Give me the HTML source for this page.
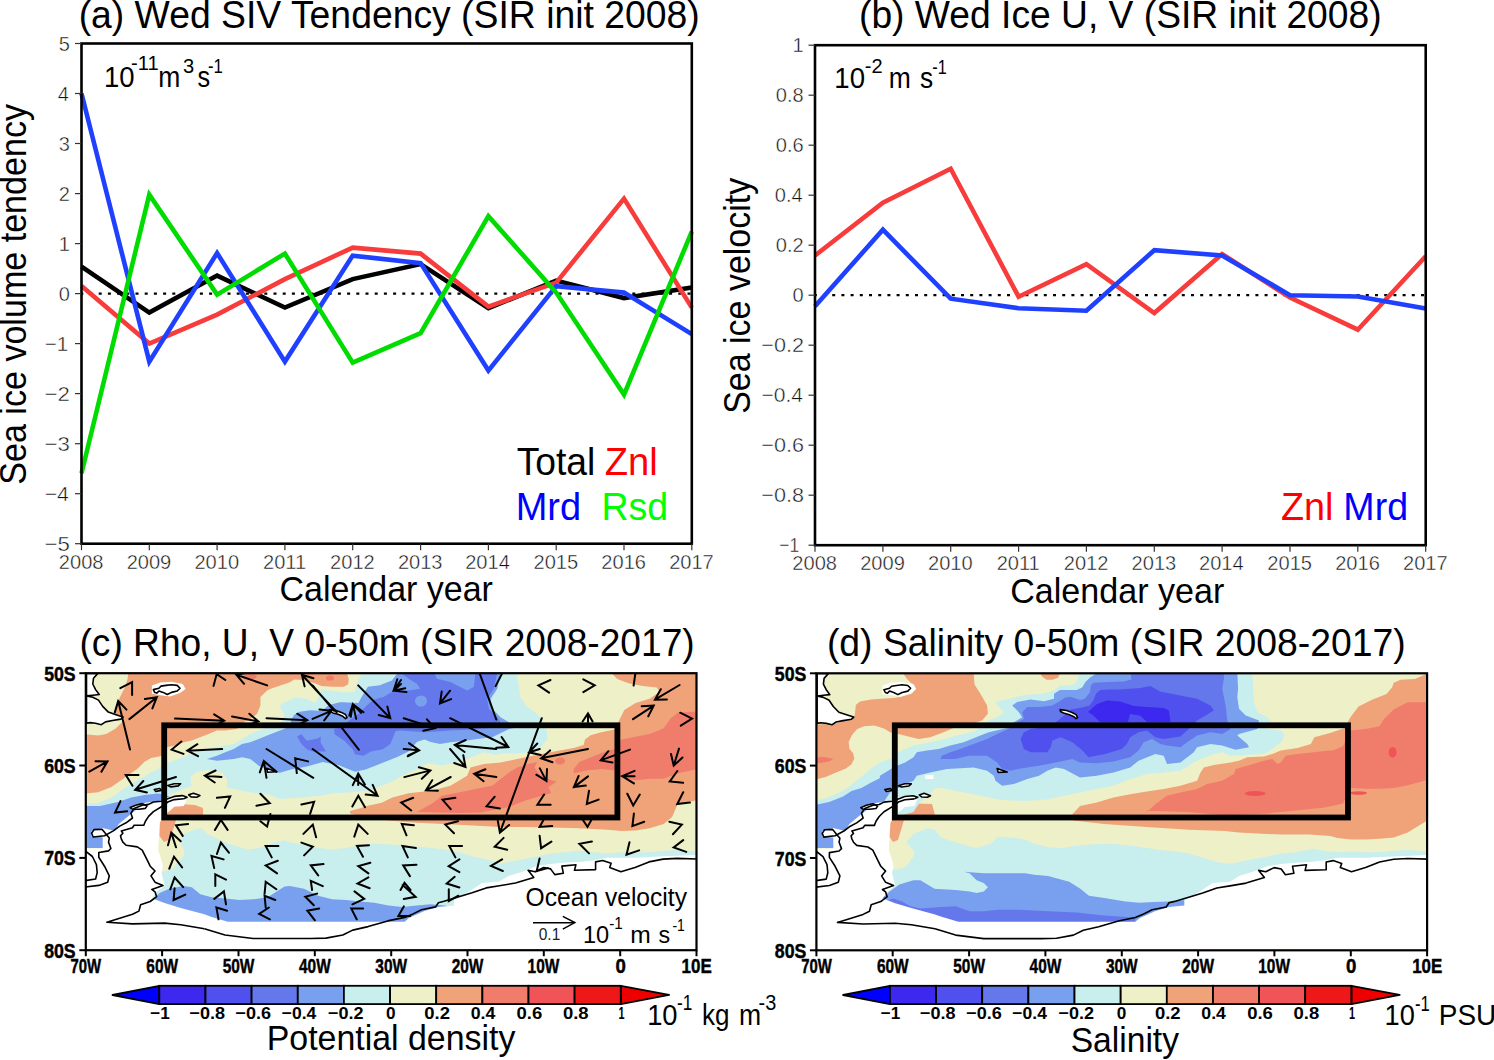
<!DOCTYPE html>
<html><head><meta charset="utf-8"><style>
html,body{margin:0;padding:0;background:#fff;}
body{width:1494px;height:1060px;overflow:hidden;font-family:"Liberation Sans", sans-serif;}
svg{position:absolute;left:0;top:0;}
</style></head><body>
<svg width="1494" height="1060" viewBox="0 0 1494 1060" font-family='"Liberation Sans", sans-serif'>
<rect width="1494" height="1060" fill="#fff"/>
<line x1="81.5" y1="293.6" x2="691.8" y2="293.6" stroke="#000" stroke-width="2.2" stroke-dasharray="3 6.2" stroke-dashoffset="1.2"/>
<polyline points="81.5,266.6 149.3,312.6 217.1,275.6 284.9,307.6 352.7,279.1 420.6,264.1 488.4,308.1 556.2,280.6 624.0,298.1 691.8,287.6" fill="none" stroke="#000000" stroke-width="4.6" stroke-linejoin="miter" stroke-miterlimit="10"/>
<polyline points="81.5,286.1 149.3,343.6 217.1,314.6 284.9,279.1 352.7,247.6 420.6,253.6 488.4,306.6 556.2,282.6 624.0,198.6 691.8,307.6" fill="none" stroke="#F83C3C" stroke-width="4.6" stroke-linejoin="miter" stroke-miterlimit="10"/>
<polyline points="81.5,93.5 149.3,361.6 217.1,253.1 284.9,361.6 352.7,255.6 420.6,263.1 488.4,370.6 556.2,286.1 624.0,292.6 691.8,334.1" fill="none" stroke="#2040FF" stroke-width="4.6" stroke-linejoin="miter" stroke-miterlimit="10"/>
<polyline points="81.5,473.2 149.3,194.6 217.1,294.6 284.9,253.6 352.7,362.6 420.6,333.1 488.4,216.1 556.2,292.6 624.0,394.6 691.8,231.6" fill="none" stroke="#00DC00" stroke-width="4.6" stroke-linejoin="miter" stroke-miterlimit="10"/>
<rect x="81.5" y="43.5" width="610.3" height="500.2" fill="none" stroke="#000" stroke-width="2.6"/>
<line x1="75.0" y1="543.7" x2="81.5" y2="543.7" stroke="#333" stroke-width="1.2"/>
<line x1="75.0" y1="493.7" x2="81.5" y2="493.7" stroke="#333" stroke-width="1.2"/>
<line x1="75.0" y1="443.7" x2="81.5" y2="443.7" stroke="#333" stroke-width="1.2"/>
<line x1="75.0" y1="393.6" x2="81.5" y2="393.6" stroke="#333" stroke-width="1.2"/>
<line x1="75.0" y1="343.6" x2="81.5" y2="343.6" stroke="#333" stroke-width="1.2"/>
<line x1="75.0" y1="293.6" x2="81.5" y2="293.6" stroke="#333" stroke-width="1.2"/>
<line x1="75.0" y1="243.6" x2="81.5" y2="243.6" stroke="#333" stroke-width="1.2"/>
<line x1="75.0" y1="193.6" x2="81.5" y2="193.6" stroke="#333" stroke-width="1.2"/>
<line x1="75.0" y1="143.5" x2="81.5" y2="143.5" stroke="#333" stroke-width="1.2"/>
<line x1="75.0" y1="93.5" x2="81.5" y2="93.5" stroke="#333" stroke-width="1.2"/>
<line x1="75.0" y1="43.5" x2="81.5" y2="43.5" stroke="#333" stroke-width="1.2"/>
<line x1="81.5" y1="543.7" x2="81.5" y2="550.2" stroke="#333" stroke-width="1.2"/>
<line x1="149.3" y1="543.7" x2="149.3" y2="550.2" stroke="#333" stroke-width="1.2"/>
<line x1="217.1" y1="543.7" x2="217.1" y2="550.2" stroke="#333" stroke-width="1.2"/>
<line x1="284.9" y1="543.7" x2="284.9" y2="550.2" stroke="#333" stroke-width="1.2"/>
<line x1="352.7" y1="543.7" x2="352.7" y2="550.2" stroke="#333" stroke-width="1.2"/>
<line x1="420.6" y1="543.7" x2="420.6" y2="550.2" stroke="#333" stroke-width="1.2"/>
<line x1="488.4" y1="543.7" x2="488.4" y2="550.2" stroke="#333" stroke-width="1.2"/>
<line x1="556.2" y1="543.7" x2="556.2" y2="550.2" stroke="#333" stroke-width="1.2"/>
<line x1="624.0" y1="543.7" x2="624.0" y2="550.2" stroke="#333" stroke-width="1.2"/>
<line x1="691.8" y1="543.7" x2="691.8" y2="550.2" stroke="#333" stroke-width="1.2"/>
<line x1="815.0" y1="295.2" x2="1425.7" y2="295.2" stroke="#000" stroke-width="2.2" stroke-dasharray="3 6.2" stroke-dashoffset="1.2"/>
<polyline points="815.0,255.5 882.9,202.7 950.7,168.7 1018.6,296.7 1086.4,264.2 1154.3,313.0 1222.1,254.0 1290.0,297.5 1357.8,329.7 1425.7,256.2" fill="none" stroke="#F83C3C" stroke-width="4.6" stroke-linejoin="miter" stroke-miterlimit="10"/>
<polyline points="815.0,306.2 882.9,229.7 950.7,298.7 1018.6,308.2 1086.4,310.7 1154.3,250.2 1222.1,255.5 1290.0,295.2 1357.8,296.5 1425.7,308.5" fill="none" stroke="#2040FF" stroke-width="4.6" stroke-linejoin="miter" stroke-miterlimit="10"/>
<rect x="815.0" y="45.2" width="610.7" height="500.0" fill="none" stroke="#000" stroke-width="2.6"/>
<line x1="808.5" y1="545.2" x2="815.0" y2="545.2" stroke="#333" stroke-width="1.2"/>
<line x1="808.5" y1="495.2" x2="815.0" y2="495.2" stroke="#333" stroke-width="1.2"/>
<line x1="808.5" y1="445.2" x2="815.0" y2="445.2" stroke="#333" stroke-width="1.2"/>
<line x1="808.5" y1="395.2" x2="815.0" y2="395.2" stroke="#333" stroke-width="1.2"/>
<line x1="808.5" y1="345.2" x2="815.0" y2="345.2" stroke="#333" stroke-width="1.2"/>
<line x1="808.5" y1="295.2" x2="815.0" y2="295.2" stroke="#333" stroke-width="1.2"/>
<line x1="808.5" y1="245.2" x2="815.0" y2="245.2" stroke="#333" stroke-width="1.2"/>
<line x1="808.5" y1="195.2" x2="815.0" y2="195.2" stroke="#333" stroke-width="1.2"/>
<line x1="808.5" y1="145.2" x2="815.0" y2="145.2" stroke="#333" stroke-width="1.2"/>
<line x1="808.5" y1="95.2" x2="815.0" y2="95.2" stroke="#333" stroke-width="1.2"/>
<line x1="808.5" y1="45.2" x2="815.0" y2="45.2" stroke="#333" stroke-width="1.2"/>
<line x1="815.0" y1="545.2" x2="815.0" y2="551.7" stroke="#333" stroke-width="1.2"/>
<line x1="882.9" y1="545.2" x2="882.9" y2="551.7" stroke="#333" stroke-width="1.2"/>
<line x1="950.7" y1="545.2" x2="950.7" y2="551.7" stroke="#333" stroke-width="1.2"/>
<line x1="1018.6" y1="545.2" x2="1018.6" y2="551.7" stroke="#333" stroke-width="1.2"/>
<line x1="1086.4" y1="545.2" x2="1086.4" y2="551.7" stroke="#333" stroke-width="1.2"/>
<line x1="1154.3" y1="545.2" x2="1154.3" y2="551.7" stroke="#333" stroke-width="1.2"/>
<line x1="1222.1" y1="545.2" x2="1222.1" y2="551.7" stroke="#333" stroke-width="1.2"/>
<line x1="1290.0" y1="545.2" x2="1290.0" y2="551.7" stroke="#333" stroke-width="1.2"/>
<line x1="1357.8" y1="545.2" x2="1357.8" y2="551.7" stroke="#333" stroke-width="1.2"/>
<line x1="1425.7" y1="545.2" x2="1425.7" y2="551.7" stroke="#333" stroke-width="1.2"/>
<defs><clipPath id="clipc"><rect x="85.8" y="673.2" width="610.7" height="277.0"/></clipPath>
<clipPath id="clipd"><rect x="816.4" y="673.3" width="610.7" height="277.0"/></clipPath></defs>
<g clip-path="url(#clipd)">
<rect x="816.4" y="673.3" width="610.7" height="277.0" fill="#EEF0C8"/>
<polygon points="903.4,673.7 973.7,673.7 974.5,684.6 980.4,693.8 987.1,705.5 987.9,713.8 982.1,720.5 977.1,722.2 963.7,725.5 953.6,728.1 943.6,732.2 930.2,737.3 918.5,738.9 908.4,736.4 898.4,733.9 890.0,732.2 885.0,728.9 880.0,727.2 874.0,725.5 864.2,726.2 857.2,729.0 852.2,734.7 848.7,741.7 849.4,748.7 853.0,752.9 854.4,758.6 851.5,764.2 845.9,768.4 836.1,772.6 826.2,776.8 815.7,779.6 815.7,724.8 823.4,724.1 830.5,725.5 836.1,723.4 843.1,720.9 850.1,719.2 854.4,716.4 855.1,712.2 855.8,705.1 860.0,701.6 871.2,699.5 881.1,698.8 893.7,698.1 900.1,697.1 911.8,693.8 916.0,688.7 913.5,685.4 906.8,678.7" fill="#F0A278"/>
<polygon points="1039.7,672.8 1060.1,672.8 1058.0,677.7 1052.3,679.8 1046.7,679.8 1042.5,677.0" fill="#F0A278"/>
<polygon points="1071.3,815.6 1080.0,805.9 1096.7,802.5 1113.5,797.5 1130.2,794.2 1146.9,791.6 1163.7,789.1 1180.4,785.8 1197.1,780.8 1200.5,772.4 1203.8,767.4 1213.9,764.9 1230.6,762.4 1239.0,760.7 1247.3,757.3 1264.1,756.5 1272.4,754.0 1280.8,750.6 1297.5,748.1 1310.9,744.0 1314.3,737.3 1330.0,733.1 1337.4,730.4 1344.5,728.3 1350.1,717.8 1358.5,706.5 1372.6,699.5 1386.6,693.9 1392.3,686.9 1393.7,682.7 1400.7,679.8 1414.8,679.1 1423.2,675.6 1428.8,672.8 1428.8,672.8 1428.8,819.8 1419.0,825.5 1407.7,832.5 1393.7,837.4 1379.6,838.8 1365.6,839.5 1351.5,839.5 1337.4,838.1 1330.4,836.0 1309.3,834.6 1281.2,834.6 1253.1,833.2 1239.1,832.5 1225.0,831.1 1188.7,829.7 1146.5,826.9 1104.3,824.1 1073.4,820.5" fill="#F0A278"/>
<polygon points="890.0,806.0 900.0,804.5 915.0,803.5 932.0,804.0 935.0,815.0 910.0,815.0 904.0,820.0 901.0,830.0 898.0,840.0 893.0,842.0 889.0,836.0 889.0,824.0 891.0,815.0" fill="#F0A278"/>
<polygon points="1146.9,812.1 1155.3,804.2 1167.0,795.8 1180.4,792.5 1197.1,789.1 1207.2,784.1 1222.2,780.8 1233.9,774.1 1235.6,769.1 1247.3,765.7 1264.1,760.7 1272.4,759.0 1277.5,764.0 1280.8,762.4 1285.8,755.7 1297.5,754.0 1314.3,752.3 1330.0,750.6 1331.8,750.8 1337.4,748.7 1343.1,745.9 1350.1,730.4 1365.6,729.0 1379.6,726.2 1383.8,719.2 1393.7,709.4 1407.7,702.3 1428.8,702.3 1428.8,779.6 1407.7,785.3 1393.7,788.1 1379.6,788.8 1365.6,788.8 1350.1,788.1 1343.1,803.5 1323.4,807.8 1295.3,810.6 1267.2,813.4 1225.0,815.5 1188.7,812.1 1146.5,810.7" fill="#F07C6C"/>
<polygon points="815.7,757.4 823.4,757.1 833.3,758.8 829.1,761.4 822.0,762.8 815.7,763.5" fill="#F07C6C"/>
<ellipse cx="1255.2" cy="793.5" rx="10.4" ry="2.4" fill="#F05458"/>
<ellipse cx="1392.6" cy="752.2" rx="4.0" ry="5.2" fill="#F05458"/>
<ellipse cx="1358.5" cy="793.0" rx="8.4" ry="1.8" fill="#F05458"/>
<polygon points="815.7,801.4 829.1,797.2 840.3,792.3 847.3,788.1 854.4,782.4 861.4,776.8 871.2,768.4 879.7,762.8 885.0,760.7 890.9,759.0 896.7,755.7 898.4,752.3 905.1,749.0 913.5,745.6 926.9,743.1 938.6,740.6 950.3,737.3 963.7,733.9 973.7,731.4 980.4,727.2 988.8,720.5 997.1,717.2 1003.8,712.2 998.8,707.1 995.5,702.1 1000.5,700.4 1010.5,698.8 1022.2,695.4 1030.6,694.6 1044.0,693.8 1054.0,690.4 1060.0,685.4 1070.0,685.4 1074.7,684.0 1078.1,678.7 1079.1,672.0 1252.4,672.0 1253.2,688.7 1254.0,702.1 1257.4,712.2 1267.4,717.2 1270.8,721.4 1264.1,728.1 1280.8,730.6 1284.1,733.9 1282.5,740.6 1272.4,749.0 1264.1,754.0 1247.3,754.8 1230.6,755.7 1222.2,752.3 1213.9,754.0 1197.1,760.7 1188.8,765.7 1180.4,770.7 1163.7,772.4 1146.9,774.1 1130.2,779.1 1113.5,785.8 1096.7,789.1 1080.0,792.5 1064.1,795.8 1047.3,799.2 1030.6,800.8 1013.9,800.8 997.1,799.2 980.4,795.8 963.7,792.5 946.9,789.1 938.6,787.5 933.5,789.1 930.2,794.2 923.5,799.2 918.5,804.2 913.5,812.1 871.2,824.1 843.1,848.0 815.7,848.0" fill="#C8EEEE"/>
<polygon points="890.9,870.4 899.3,869.0 906.4,866.2 913.4,856.4 914.8,852.2 906.4,842.3 913.4,833.9 927.4,828.3 934.5,829.7 941.5,838.1 955.6,842.3 969.6,846.5 976.6,848.0 990.7,843.7 997.7,836.7 1011.8,837.4 1025.0,839.5 1034.1,843.7 1048.1,847.2 1062.2,848.0 1076.2,845.8 1090.3,844.4 1111.4,843.7 1132.4,845.8 1146.5,848.0 1160.6,850.1 1174.6,851.5 1188.7,853.6 1202.7,857.8 1216.8,862.0 1230.0,864.1 1239.1,862.0 1253.1,859.2 1267.2,856.4 1281.2,853.6 1295.3,852.2 1309.3,849.4 1315.0,848.7 1323.4,850.8 1337.4,852.2 1351.5,851.5 1365.6,852.2 1379.6,852.2 1393.7,850.8 1407.7,850.1 1428.8,851.5 1430.0,952.0 880.0,952.0 880.0,870.0" fill="#C8EEEE"/>
<polygon points="815.7,804.9 829.1,802.1 843.1,796.5 851.5,790.9 861.4,788.1 871.2,782.4 879.7,778.2 880.0,775.7 890.9,769.1 896.7,765.7 905.1,762.4 913.5,757.3 916.8,752.3 926.9,750.6 938.6,749.0 950.3,745.6 963.7,742.3 980.4,735.6 988.8,732.2 1007.2,728.1 1013.9,722.2 1022.2,717.2 1018.9,712.2 1012.2,705.5 1017.2,702.1 1030.6,699.6 1044.0,701.3 1054.0,698.8 1054.0,693.8 1060.0,690.1 1076.7,690.1 1082.1,687.4 1085.4,682.0 1090.1,677.4 1098.8,672.0 1237.3,672.0 1238.1,688.7 1237.3,697.1 1239.0,708.8 1245.7,715.5 1259.0,720.5 1257.4,728.9 1239.0,733.9 1237.3,735.6 1247.3,744.0 1249.0,747.3 1235.6,749.8 1222.2,745.6 1210.5,744.0 1197.1,747.3 1193.8,752.3 1180.4,762.4 1167.0,764.0 1163.7,755.7 1155.3,754.0 1138.6,760.7 1130.2,767.4 1113.5,772.4 1096.7,775.7 1080.0,777.4 1064.1,769.1 1055.7,767.4 1047.3,770.7 1039.0,775.7 1027.3,779.1 1013.9,784.1 1002.2,785.8 995.5,780.8 993.8,775.7 987.1,770.7 973.7,767.4 960.3,768.2 946.9,769.1 930.2,772.4 916.8,775.7 913.5,780.8 901.8,785.8 896.7,789.1 890.0,792.5 885.0,800.0 871.2,824.1 843.1,848.0 815.7,848.0" fill="#78A0EE"/>
<polygon points="889.5,891.5 899.3,884.5 913.4,880.3 920.4,880.3 927.4,884.5 934.5,888.7 955.6,890.1 969.6,891.5 976.6,892.9 983.7,891.5 987.9,887.3 983.7,883.1 976.6,880.3 969.6,873.3 964.0,871.8 983.7,873.3 997.7,873.3 1025.0,873.3 1034.1,874.7 1048.1,876.1 1069.2,881.7 1080.4,888.7 1088.9,895.7 1104.3,897.9 1125.4,901.4 1139.5,902.8 1153.5,902.1 1169.0,901.4 1184.5,900.0 1184.5,908.4 1184.5,952.0 880.0,952.0 880.0,900.0" fill="#78A0EE"/>
<polygon points="940.2,759.0 941.9,755.7 950.3,752.3 960.3,749.0 973.7,744.0 987.1,738.9 997.1,733.9 1010.5,728.1 1017.2,722.2 1023.9,718.9 1022.2,712.2 1027.3,707.1 1040.6,707.1 1052.4,705.5 1060.7,700.4 1065.4,697.4 1070.0,696.8 1076.7,698.8 1080.1,700.1 1084.8,698.8 1090.1,692.1 1090.8,685.4 1093.5,682.7 1106.9,682.0 1123.6,681.4 1131.6,679.4 1130.3,672.0 1223.9,672.0 1223.9,678.7 1222.2,688.7 1225.6,705.5 1227.3,720.5 1230.6,728.9 1222.2,733.9 1210.5,732.2 1197.1,735.6 1187.1,742.3 1180.4,747.3 1167.0,745.6 1160.3,744.0 1152.0,738.9 1143.6,742.3 1138.6,750.6 1130.2,757.3 1113.5,761.5 1096.7,763.2 1080.0,762.4 1072.4,759.0 1055.7,762.4 1039.0,765.7 1022.2,768.2 1010.5,770.7 1002.2,769.1 997.1,762.4 987.1,755.7 968.7,755.7 955.3,759.0" fill="#6478EC"/>
<polygon points="882.5,901.4 893.7,898.6 902.2,901.4 910.0,906.0 920.4,908.4 941.5,907.0 955.6,906.3 969.6,911.2 983.7,911.2 997.7,909.8 1020.0,909.8 1048.1,911.2 1076.2,912.6 1104.3,915.4 1135.3,917.5 1135.3,923.0 880.0,923.0" fill="#6478EC"/>
<polygon points="1020.6,738.9 1023.9,732.2 1030.6,728.9 1044.0,727.2 1055.7,722.2 1064.0,715.5 1070.7,709.5 1082.0,707.5 1089.5,705.5 1093.5,700.1 1096.1,693.4 1100.2,690.1 1110.2,689.4 1120.2,689.4 1140.3,688.1 1150.4,686.1 1160.0,691.4 1180.4,695.4 1197.1,698.8 1210.5,705.5 1213.9,710.5 1205.5,715.5 1197.1,720.5 1188.8,728.9 1180.4,736.4 1163.7,738.9 1155.3,737.3 1146.9,730.6 1138.6,732.2 1130.2,737.3 1126.9,744.0 1121.8,749.0 1105.1,754.0 1088.4,757.3 1082.5,750.6 1072.4,742.3 1060.7,737.3 1052.4,740.6 1050.7,747.3 1047.3,752.3 1030.6,752.3 1023.9,749.0" fill="#5050EE"/>
<polygon points="1088.0,712.0 1097.0,704.0 1107.0,700.5 1120.0,701.5 1134.0,706.0 1147.0,707.0 1164.0,708.0 1169.0,710.5 1170.5,722.0 1147.0,722.0 1140.0,715.5 1130.0,714.0 1128.0,722.0 1100.0,722.0 1093.5,715.5" fill="#3C28EE"/>
<polygon points="815.7,848.7 833.3,848.7 833.3,837.4 822.0,836.7 822.0,831.1 833.3,828.0 845.2,831.1 849.4,824.1 862.1,813.5 876.0,802.9 887.2,801.3 892.0,800.5 898.4,797.3 912.9,795.7 917.7,798.1 914.5,806.1 904.8,806.9 901.6,810.1 895.2,814.9 890.4,822.9 888.8,850.2 892.0,859.8 893.6,866.3 892.0,872.7 895.2,885.5 887.2,891.9 882.4,898.3 895.2,903.2 911.3,908.0 935.0,914.4 941.5,916.8 958.4,921.8 1025.0,921.8 1135.3,921.8 1139.5,918.2 1155.0,911.2 1169.0,907.0 1184.5,905.6 1184.5,900.0 1199.9,891.5 1212.6,883.1 1230.0,881.7 1239.1,876.1 1253.1,871.8 1267.2,866.2 1281.2,864.1 1295.3,862.7 1309.3,862.0 1323.4,860.6 1337.5,857.8 1365.6,857.8 1393.7,856.4 1430.0,855.0 1430.0,955.0 814.0,955.0 814.0,847.0" fill="#fff"/>
<polygon points="925.2,774.9 933.5,774.9 933.5,779.1 925.2,779.1" fill="#fff"/>
<polygon points="882.5,685.5 890.9,682.7 902.1,681.9 913.4,684.1 916.2,689.0 910.6,693.2 900.7,696.7 890.9,695.3 882.5,693.9" fill="#fff"/>
<polygon points="817.1,673.5 828.4,673.5 824.1,678.4 823.4,684.1 826.2,689.7 829.8,694.6 823.4,695.3 817.1,696.0 823.4,697.4 829.1,700.2 833.3,706.5 838.9,712.2 847.3,715.0 853.7,717.1 851.5,719.2 843.1,720.6 836.1,722.0 831.9,724.8 826.2,723.4 820.6,722.7 817.1,723.4" fill="#fff" stroke="#000" stroke-width="1.6" stroke-linejoin="round"/>
<polygon points="883.9,689.7 889.5,688.3 891.6,686.2 896.5,685.5 902.1,684.8 907.8,685.5 910.6,688.3 907.8,691.1 902.1,692.5 897.9,694.6 893.7,692.5 889.5,691.1 887.4,693.2 885.3,692.5" fill="#fff" stroke="#000" stroke-width="1.6" stroke-linejoin="round"/>
<polygon points="1060.2,709.6 1066.7,710.5 1072.0,712.5 1076.1,714.6 1077.6,717.6 1076.1,718.7 1073.4,716.4 1068.7,714.4 1063.5,713.0 1060.5,711.5" fill="#fff" stroke="#000" stroke-width="1.6" stroke-linejoin="round"/>
<polygon points="997.1,768.4 1007.2,771.9 998.2,772.4" fill="#fff" stroke="#000" stroke-width="1.6" stroke-linejoin="round"/>
<polygon points="884.8,789.6 890.4,788.6 892.0,790.5 886.4,791.5" fill="#fff" stroke="#000" stroke-width="1.6" stroke-linejoin="round"/>
<polygon points="898.4,785.7 904.8,783.8 911.3,783.8 908.9,786.0 901.6,787.0" fill="#fff" stroke="#000" stroke-width="1.6" stroke-linejoin="round"/>
<polygon points="919.3,794.9 924.1,793.3 930.5,795.7 927.3,797.3 921.7,797.0" fill="#fff" stroke="#000" stroke-width="1.6" stroke-linejoin="round"/>
<polygon points="860.7,807.7 866.3,805.3 872.8,803.7 877.6,806.1 876.0,808.5 869.5,809.3 863.1,809.3" fill="#fff" stroke="#000" stroke-width="1.6" stroke-linejoin="round"/>
<polyline points="815.8,887.1 829.4,885.5 838.3,882.3 839.9,875.9 835.1,866.3 829.4,857.4 829.4,852.6 839.1,851.0 841.5,848.6 839.1,842.2 839.9,838.2 835.9,833.4 832.6,829.4 824.6,829.7 822.2,833.4 823.8,837.1 835.1,835.8 843.9,831.0 850.3,826.2 856.7,822.9 863.1,818.1 861.5,813.3 864.7,808.5 872.8,805.3 879.2,804.5 884.0,802.1 892.0,801.3 898.4,798.9 904.8,796.5 912.9,795.7 917.7,797.3 914.5,798.9" fill="none" stroke="#000" stroke-width="1.6" stroke-linejoin="round"/>
<polyline points="914.5,798.9 904.8,799.7 898.4,802.1 892.0,806.9 884.0,811.7 879.2,816.5 876.0,821.3 874.4,825.4 864.7,825.4 863.1,827.8 851.9,831.0 853.5,833.4 851.1,835.8 851.9,839.0 853.5,842.2 856.7,845.4 867.9,847.0 872.8,850.2 877.6,859.8 880.8,866.3 885.6,871.1 881.6,875.9 885.6,882.3 893.6,885.5 882.4,889.5 885.6,891.9 887.2,896.7 880.8,901.6 871.2,904.8 869.5,911.2 863.1,914.4 837.5,922.4 863.1,924.0 895.2,923.2 911.3,924.8 935.0,928.8" fill="none" stroke="#000" stroke-width="1.6" stroke-linejoin="round"/>
<polyline points="815.8,851.0 823.0,856.6 827.0,864.7 827.8,872.7 826.2,879.1 815.8,880.7" fill="none" stroke="#000" stroke-width="1.6" stroke-linejoin="round"/>
<polyline points="935.0,928.8 955.6,935.1 983.7,938.6 1025.0,938.6 1041.1,938.6 1056.5,938.2 1073.4,935.1 1083.3,930.2 1098.7,926.7 1118.4,921.0 1135.3,917.5 1143.7,914.0 1152.1,909.8 1166.2,907.0 1169.0,902.8 1174.6,901.4 1188.7,897.2 1202.7,892.9 1216.8,888.0 1230.0,885.9 1246.1,883.1 1264.4,877.5 1258.7,870.4 1265.8,871.8 1274.2,867.6 1281.2,869.0 1285.4,874.7 1293.9,873.3 1292.5,866.2 1306.5,864.8 1305.1,870.4 1326.2,869.7 1326.2,862.0 1333.2,860.6 1341.7,863.4 1340.3,867.6 1351.5,871.8 1365.6,867.6 1379.6,862.0 1393.7,859.2 1407.7,858.5 1430.0,859.2" fill="none" stroke="#000" stroke-width="1.6" stroke-linejoin="round"/>
</g>
<rect x="816.4" y="673.3" width="610.7" height="277.0" fill="none" stroke="#000" stroke-width="2.2"/>
<line x1="816.4" y1="950.3" x2="816.4" y2="956.3" stroke="#000" stroke-width="2"/>
<line x1="892.7" y1="950.3" x2="892.7" y2="956.3" stroke="#000" stroke-width="2"/>
<line x1="969.1" y1="950.3" x2="969.1" y2="956.3" stroke="#000" stroke-width="2"/>
<line x1="1045.4" y1="950.3" x2="1045.4" y2="956.3" stroke="#000" stroke-width="2"/>
<line x1="1121.8" y1="950.3" x2="1121.8" y2="956.3" stroke="#000" stroke-width="2"/>
<line x1="1198.1" y1="950.3" x2="1198.1" y2="956.3" stroke="#000" stroke-width="2"/>
<line x1="1274.4" y1="950.3" x2="1274.4" y2="956.3" stroke="#000" stroke-width="2"/>
<line x1="1350.8" y1="950.3" x2="1350.8" y2="956.3" stroke="#000" stroke-width="2"/>
<line x1="1427.1" y1="950.3" x2="1427.1" y2="956.3" stroke="#000" stroke-width="2"/>
<line x1="809.9" y1="673.3" x2="816.4" y2="673.3" stroke="#000" stroke-width="2"/>
<line x1="809.9" y1="765.6" x2="816.4" y2="765.6" stroke="#000" stroke-width="2"/>
<line x1="809.9" y1="858.0" x2="816.4" y2="858.0" stroke="#000" stroke-width="2"/>
<line x1="809.9" y1="950.3" x2="816.4" y2="950.3" stroke="#000" stroke-width="2"/>
<rect x="894.8" y="725.3" width="453.2" height="92.2" fill="none" stroke="#000" stroke-width="5.8"/>
<polygon points="843.1,995.0 889.9,985.8 889.9,1004.1" fill="#0000FF" stroke="#000" stroke-width="1.8" stroke-linejoin="round"/>
<polygon points="1399.7,994.9 1351.4,985.8 1351.4,1004.1" fill="#EE0000" stroke="#000" stroke-width="1.8" stroke-linejoin="round"/>
<rect x="889.9" y="985.8" width="46.15" height="18.3" fill="#3C28EE" stroke="#000" stroke-width="1.8"/>
<rect x="936.1" y="985.8" width="46.15" height="18.3" fill="#5050EE" stroke="#000" stroke-width="1.8"/>
<rect x="982.2" y="985.8" width="46.15" height="18.3" fill="#6478EC" stroke="#000" stroke-width="1.8"/>
<rect x="1028.4" y="985.8" width="46.15" height="18.3" fill="#78A0EE" stroke="#000" stroke-width="1.8"/>
<rect x="1074.5" y="985.8" width="46.15" height="18.3" fill="#C8EEEE" stroke="#000" stroke-width="1.8"/>
<rect x="1120.7" y="985.8" width="46.15" height="18.3" fill="#EEF0C8" stroke="#000" stroke-width="1.8"/>
<rect x="1166.8" y="985.8" width="46.15" height="18.3" fill="#F0A278" stroke="#000" stroke-width="1.8"/>
<rect x="1213.0" y="985.8" width="46.15" height="18.3" fill="#F07C6C" stroke="#000" stroke-width="1.8"/>
<rect x="1259.1" y="985.8" width="46.15" height="18.3" fill="#F05458" stroke="#000" stroke-width="1.8"/>
<rect x="1305.2" y="985.8" width="46.15" height="18.3" fill="#EE1818" stroke="#000" stroke-width="1.8"/>
<g clip-path="url(#clipc)">
<rect x="85.8" y="673.2" width="610.7" height="277.0" fill="#EEF0C8"/>
<polygon points="128.6,672.0 346.6,672.0 348.8,679.4 348.1,684.5 343.6,686.7 332.6,686.7 321.5,686.0 314.2,683.0 303.1,680.1 294.3,679.4 289.9,682.3 281.0,685.3 270.0,688.9 267.1,690.4 260.4,697.1 260.4,705.5 257.1,713.8 250.4,718.9 243.7,722.2 237.0,728.9 225.3,730.6 216.9,730.6 208.6,733.9 200.2,737.3 191.8,740.6 183.5,742.3 175.1,745.6 166.7,747.3 164.3,755.2 159.0,756.6 151.1,757.9 144.5,761.8 137.8,768.4 124.6,777.7 111.4,786.9 98.2,792.2 84.0,793.5 84.0,734.1 98.2,735.4 106.1,734.1 115.4,728.8 120.7,723.5 124.6,719.6 119.4,718.2 114.1,715.6 115.4,709.0 118.0,701.1 120.7,695.8 124.6,687.9 127.3,679.9" fill="#F0A278"/>
<polygon points="610.3,672.0 698.0,672.0 698.0,800.0 677.7,804.1 672.1,817.0 663.7,824.1 649.6,828.3 635.6,830.4 621.5,831.1 607.5,829.7 579.3,828.3 551.2,827.6 523.1,826.9 500.0,826.9 472.7,825.5 444.6,824.1 416.5,822.7 388.4,820.5 350.4,814.0 350.0,810.9 360.3,808.2 366.7,805.9 381.7,802.8 392.4,797.5 408.5,793.2 424.6,791.6 440.0,788.4 450.4,785.8 467.1,775.7 470.5,767.4 483.9,764.0 500.6,762.4 517.3,759.0 530.1,756.3 544.2,753.5 558.3,750.7 573.7,747.9 583.6,745.1 585.0,739.5 590.6,735.3 600.4,732.4 614.5,729.6 620.1,718.4 624.3,710.0 635.6,702.9 649.6,698.7 659.5,691.7 656.7,687.5 642.6,686.1 628.5,683.2 617.3,679.0" fill="#F0A278"/>
<polygon points="160.0,806.0 180.0,804.0 195.0,805.0 203.0,808.0 203.0,815.0 180.0,815.0 176.0,820.0 173.0,830.0 169.0,840.0 164.0,842.0 159.5,836.0 159.5,824.0 161.0,815.0" fill="#F0A278"/>
<polygon points="696.5,711.4 677.7,712.8 670.7,718.4 663.7,728.2 649.6,733.9 635.6,736.7 621.5,739.5 614.5,749.3 607.5,750.7 593.4,756.3 579.3,762.0 573.7,769.0 573.7,773.2 586.4,770.4 601.8,769.0 614.5,770.4 621.5,777.4 635.6,780.2 649.6,778.8 663.7,778.8 677.7,773.2 698.0,769.0 698.0,711.0" fill="#F07C6C"/>
<polygon points="416.9,812.0 433.7,802.5 442.0,795.8 458.8,792.5 475.5,789.1 492.2,785.8 500.6,779.1 509.0,772.4 517.3,767.4 530.1,763.4 537.2,762.0 534.4,767.6 540.0,774.6 551.2,780.2 556.8,781.6 548.4,787.3 551.2,792.9 537.2,797.1 523.1,801.3 509.1,807.0 495.0,809.8 480.0,812.5 460.0,813.0" fill="#F07C6C"/>
<ellipse cx="560" cy="761" rx="5" ry="3.5" fill="#F07C6C"/>
<ellipse cx="250" cy="676.5" rx="6.7" ry="3" fill="#F07C6C"/>
<ellipse cx="330" cy="678" rx="4" ry="2.6" fill="#F07C6C"/>
<polygon points="84.0,804.1 86.3,804.1 98.2,802.8 111.4,797.5 124.6,788.3 137.8,780.3 151.1,772.4 159.0,768.4 164.3,764.5 166.9,763.2 177.5,759.2 190.7,753.9 203.9,750.0 215.0,747.3 225.3,745.6 233.7,744.0 242.0,738.9 250.4,733.9 258.8,730.6 267.1,727.2 280.5,723.9 284.7,714.7 279.6,705.9 284.7,702.2 295.8,697.4 305.3,698.5 315.7,702.9 321.5,689.7 328.9,690.4 343.6,692.6 354.7,691.9 356.2,686.7 358.4,679.4 362.8,672.0 516.1,672.0 518.9,686.1 520.3,697.3 527.3,707.1 537.2,714.2 541.4,718.4 547.0,731.0 547.0,739.5 540.0,747.9 530.1,752.1 516.1,753.5 502.0,753.5 495.0,754.9 483.9,752.3 467.1,759.0 450.4,764.0 440.0,765.3 427.8,763.2 413.9,770.7 403.2,775.0 392.4,781.4 381.7,785.7 371.0,790.0 355.0,792.1 333.5,793.2 322.8,795.3 301.4,797.5 280.5,799.0 267.1,794.2 250.4,792.5 233.7,789.1 227.0,787.5 227.0,779.1 222.0,772.4 208.6,769.9 196.9,771.6 190.2,777.4 191.8,785.8 183.5,789.1 175.1,792.5 166.7,795.8 160.0,805.0 140.6,824.0 112.5,848.0 84.0,848.0" fill="#C8EEEE"/>
<polygon points="163.7,871.8 172.2,869.0 183.4,856.4 184.8,852.2 180.6,842.3 183.4,833.9 194.6,829.7 201.7,828.3 207.3,833.9 218.5,839.5 232.6,845.1 246.7,849.4 260.7,848.0 274.8,842.3 284.6,840.2 290.0,842.3 304.1,845.1 318.1,848.0 332.2,849.4 346.2,848.0 360.3,845.1 374.3,843.7 388.4,844.4 402.5,845.1 416.5,846.5 430.6,848.0 444.6,849.4 458.7,852.2 472.7,856.4 486.8,859.2 500.0,863.4 509.1,862.0 523.1,859.2 537.2,856.4 551.2,853.6 565.3,852.2 579.3,850.8 593.4,852.2 607.5,853.6 621.5,852.2 635.6,852.2 649.6,852.2 663.7,850.8 677.7,850.1 698.0,851.5 698.0,952.0 150.0,952.0 150.0,872.0" fill="#C8EEEE"/>
<polygon points="84.0,806.0 100.0,806.0 118.0,802.0 131.2,797.5 144.5,795.0 157.7,793.6 164.3,794.2 170.0,797.0 165.0,805.0 140.6,824.0 112.5,848.0 84.0,848.0" fill="#78A0EE"/>
<polygon points="206.9,759.0 216.9,755.7 225.3,752.3 233.7,749.0 242.0,744.0 250.4,742.3 258.8,738.9 267.1,735.6 275.5,732.2 283.9,728.9 292.2,725.5 290.6,720.6 294.3,714.7 299.5,711.8 310.5,710.3 321.5,711.0 328.9,705.1 340.0,702.2 343.6,702.2 358.4,702.9 362.0,696.3 367.9,686.7 380.0,685.3 383.5,683.7 391.8,680.4 398.5,672.0 500.6,672.0 497.3,688.7 490.6,698.8 492.2,708.8 500.6,717.2 509.0,722.2 517.3,727.2 509.0,728.9 492.2,737.3 477.2,738.9 467.1,740.6 450.4,742.3 440.0,743.9 429.9,741.8 424.6,739.6 417.1,741.8 408.5,751.4 397.8,756.8 387.1,761.0 376.4,765.3 365.7,769.6 355.0,771.8 338.9,765.3 322.8,762.1 306.8,766.4 290.7,769.6 280.0,772.8 275.5,772.4 258.8,765.7 250.4,759.0 242.0,757.3 233.7,759.0 216.9,760.7" fill="#78A0EE"/>
<polygon points="151.1,901.4 159.5,892.9 169.3,888.7 183.4,885.9 191.8,887.3 200.3,894.3 211.5,897.2 225.6,898.6 239.6,900.0 253.7,899.3 267.7,897.2 279.0,890.1 284.6,886.6 290.0,885.9 304.1,888.7 318.1,895.7 332.2,899.3 346.2,900.0 360.3,901.4 374.3,902.8 388.4,905.6 402.5,907.0 416.5,905.6 430.6,904.2 444.6,905.6 451.7,907.0 451.7,952.0 140.0,952.0 140.0,905.0" fill="#78A0EE"/>
<polygon points="380.0,697.8 373.1,700.0 365.7,706.6 358.4,714.0 351.0,719.1 347.3,722.1 342.4,727.2 334.1,728.9 334.6,734.3 344.2,740.7 352.8,749.3 355.0,754.6 363.5,755.7 371.0,751.4 382.8,749.3 390.3,743.9 393.5,736.4 395.7,731.0 400.2,730.6 425.3,732.2 450.4,730.6 467.1,729.7 488.9,728.1 500.6,722.2 497.3,717.2 488.9,708.8 487.2,698.8 493.9,688.7 497.3,672.0 475.5,672.0 473.8,687.1 467.1,690.4 450.4,682.0 437.0,678.7 433.7,672.0 400.2,672.0 408.6,678.7 416.9,683.7 420.3,688.7 408.6,690.4 391.8,692.1 383.5,697.1" fill="#6478EC"/>
<polygon points="297.1,736.4 301.4,734.3 306.8,740.7 317.5,738.6 320.7,736.4 320.7,742.8 326.0,751.4 312.1,751.4 306.8,749.3 301.4,743.9" fill="#6478EC"/>
<ellipse cx="421" cy="701" rx="6" ry="5.5" fill="#78A0EE"/>
<polygon points="85.1,848.6 102.7,848.6 102.7,837.3 91.4,836.6 91.4,831.0 102.7,827.9 114.6,831.0 118.8,824.0 131.5,813.4 145.4,802.8 156.6,801.2 161.4,800.4 167.8,797.2 182.3,795.6 187.1,798.0 183.9,806.0 174.2,806.8 171.0,810.0 164.6,814.8 159.8,822.8 158.2,850.1 161.4,859.7 163.0,866.2 161.4,872.6 164.6,885.4 156.6,891.8 151.8,898.2 164.6,903.1 180.7,907.9 204.4,914.3 210.9,916.7 227.8,921.7 294.4,921.7 404.7,921.7 408.9,918.1 424.4,911.1 438.4,906.9 453.9,905.5 453.9,899.9 469.3,891.4 482.0,883.0 499.4,881.6 508.5,876.0 522.5,871.7 536.6,866.1 550.6,864.0 564.7,862.6 578.7,861.9 592.8,860.5 606.9,857.7 635.0,857.7 663.1,856.3 699.4,854.9 699.4,954.9 83.4,954.9 83.4,846.9" fill="#fff"/>
<polygon points="151.9,685.4 160.3,682.6 171.5,681.8 182.8,684.0 185.6,688.9 180.0,693.1 170.1,696.6 160.3,695.2 151.9,693.8" fill="#fff"/>
<polygon points="86.5,673.4 97.8,673.4 93.5,678.3 92.8,684.0 95.6,689.6 99.2,694.5 92.8,695.2 86.5,695.9 92.8,697.3 98.5,700.1 102.7,706.4 108.3,712.1 116.7,714.9 123.1,717.0 120.9,719.1 112.5,720.5 105.5,721.9 101.3,724.7 95.6,723.3 90.0,722.6 86.5,723.3" fill="#fff" stroke="#000" stroke-width="1.6" stroke-linejoin="round"/>
<polygon points="153.3,689.6 158.9,688.2 161.0,686.1 165.9,685.4 171.5,684.7 177.2,685.4 180.0,688.2 177.2,691.0 171.5,692.4 167.3,694.5 163.1,692.4 158.9,691.0 156.8,693.1 154.7,692.4" fill="#fff" stroke="#000" stroke-width="1.6" stroke-linejoin="round"/>
<polygon points="329.6,709.5 336.1,710.4 341.4,712.4 345.5,714.5 347.0,717.5 345.5,718.6 342.8,716.3 338.1,714.3 332.9,712.9 329.9,711.4" fill="#fff" stroke="#000" stroke-width="1.6" stroke-linejoin="round"/>
<polygon points="266.5,768.3 276.6,771.8 267.6,772.3" fill="#fff" stroke="#000" stroke-width="1.6" stroke-linejoin="round"/>
<polygon points="154.2,789.5 159.8,788.5 161.4,790.4 155.8,791.4" fill="#fff" stroke="#000" stroke-width="1.6" stroke-linejoin="round"/>
<polygon points="167.8,785.6 174.2,783.7 180.7,783.7 178.3,785.9 171.0,786.9" fill="#fff" stroke="#000" stroke-width="1.6" stroke-linejoin="round"/>
<polygon points="188.7,794.8 193.5,793.2 199.9,795.6 196.7,797.2 191.1,796.9" fill="#fff" stroke="#000" stroke-width="1.6" stroke-linejoin="round"/>
<polygon points="130.1,807.6 135.7,805.2 142.2,803.6 147.0,806.0 145.4,808.4 138.9,809.2 132.5,809.2" fill="#fff" stroke="#000" stroke-width="1.6" stroke-linejoin="round"/>
<polyline points="85.2,887.0 98.8,885.4 107.7,882.2 109.3,875.8 104.5,866.2 98.8,857.3 98.8,852.5 108.5,850.9 110.9,848.5 108.5,842.1 109.3,838.1 105.3,833.3 102.0,829.3 94.0,829.6 91.6,833.3 93.2,837.0 104.5,835.7 113.3,830.9 119.7,826.1 126.1,822.8 132.5,818.0 130.9,813.2 134.1,808.4 142.2,805.2 148.6,804.4 153.4,802.0 161.4,801.2 167.8,798.8 174.2,796.4 182.3,795.6 187.1,797.2 183.9,798.8" fill="none" stroke="#000" stroke-width="1.6" stroke-linejoin="round"/>
<polyline points="183.9,798.8 174.2,799.6 167.8,802.0 161.4,806.8 153.4,811.6 148.6,816.4 145.4,821.2 143.8,825.3 134.1,825.3 132.5,827.7 121.3,830.9 122.9,833.3 120.5,835.7 121.3,838.9 122.9,842.1 126.1,845.3 137.3,846.9 142.2,850.1 147.0,859.7 150.2,866.2 155.0,871.0 151.0,875.8 155.0,882.2 163.0,885.4 151.8,889.4 155.0,891.8 156.6,896.6 150.2,901.5 140.6,904.7 138.9,911.1 132.5,914.3 106.9,922.3 132.5,923.9 164.6,923.1 180.7,924.7 204.4,928.7" fill="none" stroke="#000" stroke-width="1.6" stroke-linejoin="round"/>
<polyline points="85.2,850.9 92.4,856.5 96.4,864.6 97.2,872.6 95.6,879.0 85.2,880.6" fill="none" stroke="#000" stroke-width="1.6" stroke-linejoin="round"/>
<polyline points="204.4,928.7 225.0,935.0 253.1,938.5 294.4,938.5 310.5,938.5 325.9,938.1 342.8,935.0 352.7,930.1 368.1,926.6 387.8,920.9 404.7,917.4 413.1,913.9 421.5,909.7 435.6,906.9 438.4,902.7 444.0,901.3 458.1,897.1 472.1,892.8 486.2,887.9 499.4,885.8 515.5,883.0 533.8,877.4 528.1,870.3 535.2,871.7 543.6,867.5 550.6,868.9 554.8,874.6 563.3,873.2 561.9,866.1 575.9,864.7 574.5,870.3 595.6,869.6 595.6,861.9 602.6,860.5 611.1,863.3 609.7,867.5 620.9,871.7 635.0,867.5 649.0,861.9 663.1,859.1 677.1,858.4 699.4,859.1" fill="none" stroke="#000" stroke-width="1.6" stroke-linejoin="round"/>
<path d="M130.0 749.6L118.2 700.9M114.8 712.4L118.2 700.9L126.5 709.6M129.4 719.1L156.8 697.2M144.9 699.0L156.8 697.2L152.4 708.4M175.0 718.6L224.2 720.7M214.1 714.3L224.2 720.7L213.6 726.3M222.1 749.1L187.3 750.7M198.0 756.2L187.3 750.7L197.4 744.2M89.3 771.6L107.5 761.4M95.5 761.2L107.5 761.4L101.4 771.7M267.1 685.4L236.3 674.7M244.1 683.8L236.3 674.7L248.1 672.4M336.7 712.2L301.9 674.7M304.6 686.4L301.9 674.7L313.4 678.2M312.6 718.9L331.4 710.8M319.5 709.4L331.4 710.8L324.2 720.4M358.2 685.4L390.3 718.2M387.3 706.6L390.3 718.2L378.7 715.0M266.5 718.2L307.3 720.2M297.2 713.7L307.3 720.2L296.6 725.7M232.0 716.5L258.4 721.5M249.3 713.7L258.4 721.5L247.1 725.5M403.7 718.2L435.0 728.2M426.9 719.3L435.0 728.2L423.3 730.8M403.7 749.0L419.1 750.3M409.2 743.4L419.1 750.3L408.2 755.4M312.6 749.0L377.6 795.8M372.7 784.9L377.6 795.8L365.7 794.6M404.3 777.1L430.4 770.4M418.8 767.2L430.4 770.4L421.8 778.8M450.7 777.0L425.9 790.4M437.9 790.7L425.9 790.4L432.2 780.2M450.1 718.2L508.3 747.0M501.6 737.0L508.3 747.0L496.3 747.8M496.3 749.0L454.8 745.0M464.6 752.0L454.8 745.0L465.7 740.0M450.1 749.0L465.5 767.0M463.3 755.2L465.5 767.0L454.2 763.0M541.8 718.2L499.9 832.7M509.1 825.0L499.9 832.7L497.8 820.9M539.8 749.0L529.1 752.3M540.8 755.0L529.1 752.3L537.3 743.5M588.0 749.0L541.1 758.3M552.5 762.2L541.1 758.3L550.1 750.4M496.3 777.1L474.2 773.7M483.6 781.2L474.2 773.7L485.4 769.3M539.8 768.4L546.5 781.1M547.0 769.1L546.5 781.1L536.3 774.7M588.0 776.4L573.9 787.1M585.8 785.6L573.9 787.1L578.6 776.0M630.0 749.6L600.7 760.4M612.5 762.4L600.7 760.4L608.4 751.2M679.6 685.0L654.9 699.7M666.9 699.5L654.9 699.7L660.8 689.2M633.0 719.2L653.7 705.6M641.7 706.3L653.7 705.6L648.3 716.3M679.0 748.6L673.7 765.7M682.5 757.5L673.7 765.7L671.0 754.0M176.0 777.0L135.2 789.8M146.9 792.4L135.2 789.8L143.3 781.0M221.5 777.0L204.8 775.7M214.7 782.5L204.8 775.7L215.6 770.5M356.2 718.9L352.8 704.1M349.3 715.6L352.8 704.1L361.0 712.9M450.1 690.7L440.0 703.5M451.1 699.1L440.0 703.5L441.7 691.6M401.0 684.0L393.6 690.7M405.3 688.2L393.6 690.7L397.3 679.3M312.6 685.4L334.1 710.8M342.1 728.2L358.8 749.6M266.5 749.0L313.3 777.8M479.5 673.0L496.3 719.5M495.6 686.1L502.3 673.0M633.6 685.6L635.4 673.0M263.8 761.0L266.5 777.8M171.3 832.6L176.0 847.3M588.0 713.5L588.0 722.0M358.2 773.7L358.2 785.0M634.6 776.3L622.4 776.3M120.3 688.1L132.1 682.2L132.1 695.0M213.5 685.9L216.7 674.1L225.3 680.0M181.4 741.6L171.7 749.6L183.5 753.9M401.0 680.0L393.6 690.7L406.4 692.1M409.0 743.0L419.1 750.3L407.7 756.3M308.0 761.4L295.2 758.3L296.8 773.1M259.8 772.4L263.8 761.0L276.5 771.7M352.8 785.1L358.2 773.7L364.9 784.5M350.8 716.8L352.8 704.1L363.5 712.2M550.5 680.0L538.4 685.4L549.1 692.7M583.3 679.4L594.7 685.4L583.3 692.1M582.6 721.5L588.0 713.5L592.6 721.5M634.6 770.9L622.2 776.2L633.9 783.4M680.2 712.7L692.0 718.6L680.8 725.6M677.3 771.0L669.8 781.4L683.1 782.8M138.5 775.0L125.8 775.0L132.5 785.7M120.5 801.1L115.1 812.5L127.2 811.2M216.9 797.8L230.2 796.5L224.9 807.8M260.4 793.8L269.7 803.2L256.4 805.8M214.9 829.9L220.9 819.9L227.6 829.9M188.1 823.9L176.0 825.2L182.7 835.9M168.0 845.3L171.3 832.6L180.7 841.3M270.4 813.9L267.1 826.6L260.4 821.2M216.9 854.0L220.9 842.6L228.9 852.7M278.4 846.0L265.7 846.0L271.7 857.4M214.2 868.1L211.5 856.0L223.6 859.4M169.3 868.7L174.0 856.7L182.1 867.4M277.8 860.7L265.7 865.4L277.1 873.4M301.4 804.5L314.1 801.8L310.1 813.9M352.3 806.5L358.3 795.8L365.0 807.2M413.2 797.8L401.2 802.5L411.2 810.5M455.4 797.8L442.6 799.8L450.7 809.2M303.4 833.9L312.8 824.6L316.1 837.3M354.3 836.6L358.3 824.6L367.7 833.9M413.9 825.2L401.8 823.9L406.5 835.3M458.0 821.2L445.3 824.6L454.0 833.3M301.4 842.6L312.8 846.7L304.1 855.4M369.0 845.3L357.0 846.0L363.0 856.7M415.9 848.0L402.5 846.0L407.8 857.4M462.1 846.0L449.3 846.0L455.4 857.4M323.5 864.1L310.8 865.4L318.2 875.4M370.4 862.7L358.3 866.1L368.4 873.4M416.5 864.7L403.2 865.4L409.9 876.1M459.4 859.4L448.7 866.1L459.4 872.1M322.8 886.2L310.8 880.8L312.1 890.0M369.7 888.2L357.6 883.5L368.4 877.4M459.4 887.5L446.7 883.5L454.7 876.8M400.5 890.0L404.5 882.8L410.5 890.0M494.7 796.7L486.6 806.2L499.9 808.4M544.1 794.5L537.4 804.8L550.7 804.8M589.0 790.8L586.8 804.0L598.6 799.6M627.3 793.7L633.2 805.5L639.8 794.5M683.2 792.2L677.3 804.0L689.9 802.6M543.3 820.2L539.6 826.9L552.2 826.1M583.1 820.2L587.5 826.9L591.2 820.2M633.9 813.6L632.4 826.1L644.2 821.7M669.3 821.7L681.8 824.6L672.9 834.2M503.6 837.9L494.7 846.7L507.2 849.7M539.6 835.7L541.1 848.2L551.4 841.6M591.9 841.6L579.4 843.8L589.0 853.4M629.5 842.3L626.5 854.8L639.1 850.4M683.2 840.1L673.7 847.5L686.2 851.9M502.1 859.3L491.0 865.9L502.8 871.0M539.6 858.5L536.7 871.0L547.7 868.1M170.3 889.3L174.6 877.5L183.2 887.1M174.6 888.2L173.6 900.0L185.3 894.6M215.3 886.1L215.3 874.3L226.0 879.6M214.3 898.9L223.9 891.4L226.0 904.3M218.5 919.3L216.4 907.5L227.1 910.7M276.4 889.3L265.7 881.8L264.6 893.6M275.3 900.0L264.6 895.7L265.7 907.5M268.9 907.5L259.2 913.9L269.9 919.3M317.1 893.6L305.3 896.8L313.8 905.3M319.2 908.6L307.4 910.7L314.9 920.3M354.5 891.4L364.2 898.9L352.4 904.3M363.1 908.6L351.3 908.6L356.7 919.3M402.7 885.0L415.6 896.8L403.8 898.9M403.8 906.4L398.4 916.0L410.2 916.0M448.8 889.3L448.8 901.1L458.4 895.7" fill="none" stroke="#000" stroke-width="2" stroke-linecap="round" stroke-linejoin="miter"/>
</g>
<rect x="85.8" y="673.2" width="610.7" height="277.0" fill="none" stroke="#000" stroke-width="2.2"/>
<line x1="85.8" y1="950.2" x2="85.8" y2="956.2" stroke="#000" stroke-width="2"/>
<line x1="162.1" y1="950.2" x2="162.1" y2="956.2" stroke="#000" stroke-width="2"/>
<line x1="238.5" y1="950.2" x2="238.5" y2="956.2" stroke="#000" stroke-width="2"/>
<line x1="314.8" y1="950.2" x2="314.8" y2="956.2" stroke="#000" stroke-width="2"/>
<line x1="391.2" y1="950.2" x2="391.2" y2="956.2" stroke="#000" stroke-width="2"/>
<line x1="467.5" y1="950.2" x2="467.5" y2="956.2" stroke="#000" stroke-width="2"/>
<line x1="543.8" y1="950.2" x2="543.8" y2="956.2" stroke="#000" stroke-width="2"/>
<line x1="620.2" y1="950.2" x2="620.2" y2="956.2" stroke="#000" stroke-width="2"/>
<line x1="696.5" y1="950.2" x2="696.5" y2="956.2" stroke="#000" stroke-width="2"/>
<line x1="79.3" y1="673.2" x2="85.8" y2="673.2" stroke="#000" stroke-width="2"/>
<line x1="79.3" y1="765.5" x2="85.8" y2="765.5" stroke="#000" stroke-width="2"/>
<line x1="79.3" y1="857.9" x2="85.8" y2="857.9" stroke="#000" stroke-width="2"/>
<line x1="79.3" y1="950.2" x2="85.8" y2="950.2" stroke="#000" stroke-width="2"/>
<rect x="164.2" y="725.3" width="453.2" height="92.2" fill="none" stroke="#000" stroke-width="5.8"/>
<polygon points="112.5,995.0 159.3,985.8 159.3,1004.1" fill="#0000FF" stroke="#000" stroke-width="1.8" stroke-linejoin="round"/>
<polygon points="669.1,994.9 620.8,985.8 620.8,1004.1" fill="#EE0000" stroke="#000" stroke-width="1.8" stroke-linejoin="round"/>
<rect x="159.3" y="985.8" width="46.15" height="18.3" fill="#3C28EE" stroke="#000" stroke-width="1.8"/>
<rect x="205.5" y="985.8" width="46.15" height="18.3" fill="#5050EE" stroke="#000" stroke-width="1.8"/>
<rect x="251.6" y="985.8" width="46.15" height="18.3" fill="#6478EC" stroke="#000" stroke-width="1.8"/>
<rect x="297.8" y="985.8" width="46.15" height="18.3" fill="#78A0EE" stroke="#000" stroke-width="1.8"/>
<rect x="343.9" y="985.8" width="46.15" height="18.3" fill="#C8EEEE" stroke="#000" stroke-width="1.8"/>
<rect x="390.1" y="985.8" width="46.15" height="18.3" fill="#EEF0C8" stroke="#000" stroke-width="1.8"/>
<rect x="436.2" y="985.8" width="46.15" height="18.3" fill="#F0A278" stroke="#000" stroke-width="1.8"/>
<rect x="482.4" y="985.8" width="46.15" height="18.3" fill="#F07C6C" stroke="#000" stroke-width="1.8"/>
<rect x="528.5" y="985.8" width="46.15" height="18.3" fill="#F05458" stroke="#000" stroke-width="1.8"/>
<rect x="574.6" y="985.8" width="46.15" height="18.3" fill="#EE1818" stroke="#000" stroke-width="1.8"/>
<line x1="533" y1="922.8" x2="574.3" y2="922.8" stroke="#000" stroke-width="1.5"/>
<polyline points="562.8,916.3 574.8,922.6 562.8,929.2" fill="none" stroke="#000" stroke-width="1.5"/>
<text x="44.64" y="550.90" font-size="21" fill="#111" textLength="25.38" lengthAdjust="spacingAndGlyphs" stroke="#fff" stroke-width="0.45">−5</text>
<text x="44.69" y="500.88" font-size="21" fill="#111" textLength="24.29" lengthAdjust="spacingAndGlyphs" stroke="#fff" stroke-width="0.45">−4</text>
<text x="44.64" y="450.86" font-size="21" fill="#111" textLength="25.38" lengthAdjust="spacingAndGlyphs" stroke="#fff" stroke-width="0.45">−3</text>
<text x="44.64" y="400.84" font-size="21" fill="#111" textLength="25.38" lengthAdjust="spacingAndGlyphs" stroke="#fff" stroke-width="0.45">−2</text>
<text x="44.72" y="350.82" font-size="21" fill="#111" textLength="23.55" lengthAdjust="spacingAndGlyphs" stroke="#fff" stroke-width="0.45">−1</text>
<text x="58.80" y="300.80" font-size="21" fill="#111" textLength="11.15" lengthAdjust="spacingAndGlyphs" stroke="#fff" stroke-width="0.45">0</text>
<text x="58.80" y="250.78" font-size="21" fill="#111" textLength="11.15" lengthAdjust="spacingAndGlyphs" stroke="#fff" stroke-width="0.45">1</text>
<text x="58.80" y="200.76" font-size="21" fill="#111" textLength="11.15" lengthAdjust="spacingAndGlyphs" stroke="#fff" stroke-width="0.45">2</text>
<text x="58.80" y="150.74" font-size="21" fill="#111" textLength="11.15" lengthAdjust="spacingAndGlyphs" stroke="#fff" stroke-width="0.45">3</text>
<text x="57.84" y="100.72" font-size="21" fill="#111" textLength="11.15" lengthAdjust="spacingAndGlyphs" stroke="#fff" stroke-width="0.45">4</text>
<text x="58.80" y="50.70" font-size="21" fill="#111" textLength="11.15" lengthAdjust="spacingAndGlyphs" stroke="#fff" stroke-width="0.45">5</text>
<text x="779.27" y="552.40" font-size="21" fill="#111" textLength="19.90" lengthAdjust="spacingAndGlyphs" stroke="#fff" stroke-width="0.45">−1</text>
<text x="761.37" y="502.40" font-size="21" fill="#111" textLength="42.63" lengthAdjust="spacingAndGlyphs" stroke="#fff" stroke-width="0.45">−0.8</text>
<text x="761.37" y="452.40" font-size="21" fill="#111" textLength="42.63" lengthAdjust="spacingAndGlyphs" stroke="#fff" stroke-width="0.45">−0.6</text>
<text x="761.40" y="402.40" font-size="21" fill="#111" textLength="41.58" lengthAdjust="spacingAndGlyphs" stroke="#fff" stroke-width="0.45">−0.4</text>
<text x="761.37" y="352.40" font-size="21" fill="#111" textLength="42.63" lengthAdjust="spacingAndGlyphs" stroke="#fff" stroke-width="0.45">−0.2</text>
<text x="792.50" y="302.40" font-size="21" fill="#111" textLength="11.15" lengthAdjust="spacingAndGlyphs" stroke="#fff" stroke-width="0.45">0</text>
<text x="775.77" y="252.40" font-size="21" fill="#111" textLength="27.88" lengthAdjust="spacingAndGlyphs" stroke="#fff" stroke-width="0.45">0.2</text>
<text x="774.81" y="202.40" font-size="21" fill="#111" textLength="27.88" lengthAdjust="spacingAndGlyphs" stroke="#fff" stroke-width="0.45">0.4</text>
<text x="775.77" y="152.40" font-size="21" fill="#111" textLength="27.88" lengthAdjust="spacingAndGlyphs" stroke="#fff" stroke-width="0.45">0.6</text>
<text x="775.77" y="102.40" font-size="21" fill="#111" textLength="27.88" lengthAdjust="spacingAndGlyphs" stroke="#fff" stroke-width="0.45">0.8</text>
<text x="792.50" y="52.40" font-size="21" fill="#111" textLength="11.15" lengthAdjust="spacingAndGlyphs" stroke="#fff" stroke-width="0.45">1</text>
<text x="58.84" y="568.80" font-size="21" fill="#111" textLength="44.61" lengthAdjust="spacingAndGlyphs" stroke="#fff" stroke-width="0.45">2008</text>
<text x="792.34" y="569.60" font-size="21" fill="#111" textLength="44.61" lengthAdjust="spacingAndGlyphs" stroke="#fff" stroke-width="0.45">2008</text>
<text x="126.65" y="568.80" font-size="21" fill="#111" textLength="44.61" lengthAdjust="spacingAndGlyphs" stroke="#fff" stroke-width="0.45">2009</text>
<text x="860.20" y="569.60" font-size="21" fill="#111" textLength="44.61" lengthAdjust="spacingAndGlyphs" stroke="#fff" stroke-width="0.45">2009</text>
<text x="194.46" y="568.80" font-size="21" fill="#111" textLength="44.61" lengthAdjust="spacingAndGlyphs" stroke="#fff" stroke-width="0.45">2010</text>
<text x="928.05" y="569.60" font-size="21" fill="#111" textLength="44.61" lengthAdjust="spacingAndGlyphs" stroke="#fff" stroke-width="0.45">2010</text>
<text x="263.02" y="568.80" font-size="21" fill="#111" textLength="43.13" lengthAdjust="spacingAndGlyphs" stroke="#fff" stroke-width="0.45">2011</text>
<text x="996.65" y="569.60" font-size="21" fill="#111" textLength="43.13" lengthAdjust="spacingAndGlyphs" stroke="#fff" stroke-width="0.45">2011</text>
<text x="330.08" y="568.80" font-size="21" fill="#111" textLength="44.61" lengthAdjust="spacingAndGlyphs" stroke="#fff" stroke-width="0.45">2012</text>
<text x="1063.76" y="569.60" font-size="21" fill="#111" textLength="44.61" lengthAdjust="spacingAndGlyphs" stroke="#fff" stroke-width="0.45">2012</text>
<text x="397.90" y="568.80" font-size="21" fill="#111" textLength="44.61" lengthAdjust="spacingAndGlyphs" stroke="#fff" stroke-width="0.45">2013</text>
<text x="1131.62" y="569.60" font-size="21" fill="#111" textLength="44.61" lengthAdjust="spacingAndGlyphs" stroke="#fff" stroke-width="0.45">2013</text>
<text x="465.23" y="568.80" font-size="21" fill="#111" textLength="44.61" lengthAdjust="spacingAndGlyphs" stroke="#fff" stroke-width="0.45">2014</text>
<text x="1199.00" y="569.60" font-size="21" fill="#111" textLength="44.61" lengthAdjust="spacingAndGlyphs" stroke="#fff" stroke-width="0.45">2014</text>
<text x="533.52" y="568.80" font-size="21" fill="#111" textLength="44.61" lengthAdjust="spacingAndGlyphs" stroke="#fff" stroke-width="0.45">2015</text>
<text x="1267.33" y="569.60" font-size="21" fill="#111" textLength="44.61" lengthAdjust="spacingAndGlyphs" stroke="#fff" stroke-width="0.45">2015</text>
<text x="601.33" y="568.80" font-size="21" fill="#111" textLength="44.61" lengthAdjust="spacingAndGlyphs" stroke="#fff" stroke-width="0.45">2016</text>
<text x="1335.18" y="569.60" font-size="21" fill="#111" textLength="44.61" lengthAdjust="spacingAndGlyphs" stroke="#fff" stroke-width="0.45">2016</text>
<text x="669.14" y="568.80" font-size="21" fill="#111" textLength="44.61" lengthAdjust="spacingAndGlyphs" stroke="#fff" stroke-width="0.45">2017</text>
<text x="1403.04" y="569.60" font-size="21" fill="#111" textLength="44.61" lengthAdjust="spacingAndGlyphs" stroke="#fff" stroke-width="0.45">2017</text>
<text x="78.64" y="28.40" font-size="38" fill="#000" textLength="621.09" lengthAdjust="spacingAndGlyphs">(a) Wed SIV Tendency (SIR init 2008)</text>
<text x="859.04" y="28.20" font-size="38" fill="#000" textLength="522.58" lengthAdjust="spacingAndGlyphs">(b) Wed Ice U, V (SIR init 2008)</text>
<text x="279.53" y="601.30" font-size="35" fill="#000" textLength="213.34" lengthAdjust="spacingAndGlyphs">Calendar year</text>
<text x="1010.23" y="602.60" font-size="35" fill="#000" textLength="214.04" lengthAdjust="spacingAndGlyphs">Calendar year</text>
<text transform="translate(26.00,484.75) rotate(-90)" x="0" y="0" font-size="36" fill="#000" textLength="380.75" lengthAdjust="spacingAndGlyphs">Sea ice volume tendency</text>
<text transform="translate(750.00,413.84) rotate(-90)" x="0" y="0" font-size="36" fill="#000" textLength="236.04" lengthAdjust="spacingAndGlyphs">Sea ice velocity</text>
<text x="516.70" y="474.80" font-size="38" fill="#000" textLength="78.69" lengthAdjust="spacingAndGlyphs">Total</text>
<text x="604.80" y="474.80" font-size="38" fill="#FF0000" textLength="52.95" lengthAdjust="spacingAndGlyphs">Znl</text>
<text x="515.70" y="519.70" font-size="38" fill="#0000FF" textLength="65.43" lengthAdjust="spacingAndGlyphs">Mrd</text>
<text x="601.44" y="519.70" font-size="38" fill="#00FF00" textLength="66.66" lengthAdjust="spacingAndGlyphs">Rsd</text>
<text x="1281.01" y="519.90" font-size="38" fill="#FF0000" textLength="52.42" lengthAdjust="spacingAndGlyphs">Znl</text>
<text x="1343.33" y="519.90" font-size="38" fill="#0000FF" textLength="64.78" lengthAdjust="spacingAndGlyphs">Mrd</text>
<text x="103.90" y="86.90" font-size="29" fill="#000" textLength="30.56" lengthAdjust="spacingAndGlyphs">10</text>
<text x="131.00" y="70.00" font-size="19.5" fill="#000" textLength="27.67" lengthAdjust="spacingAndGlyphs">-11</text>
<text x="158.29" y="86.90" font-size="29" fill="#000" textLength="22.07" lengthAdjust="spacingAndGlyphs">m</text>
<text x="183.10" y="73.20" font-size="20.5" fill="#000" textLength="11.19" lengthAdjust="spacingAndGlyphs">3</text>
<text x="197.60" y="86.90" font-size="29" fill="#000" textLength="12.64" lengthAdjust="spacingAndGlyphs">s</text>
<text x="207.90" y="72.60" font-size="20.5" fill="#000" textLength="14.93" lengthAdjust="spacingAndGlyphs">-1</text>
<text x="834.30" y="87.80" font-size="29" fill="#000" textLength="30.68" lengthAdjust="spacingAndGlyphs">10</text>
<text x="864.80" y="72.80" font-size="20.5" fill="#000" textLength="17.79" lengthAdjust="spacingAndGlyphs">-2</text>
<text x="888.79" y="87.80" font-size="29" fill="#000" textLength="22.07" lengthAdjust="spacingAndGlyphs">m</text>
<text x="920.10" y="87.80" font-size="29" fill="#000" textLength="13.15" lengthAdjust="spacingAndGlyphs">s</text>
<text x="932.30" y="74.00" font-size="20.5" fill="#000" textLength="14.42" lengthAdjust="spacingAndGlyphs">-1</text>
<text x="801.15" y="973.30" font-size="20.5" font-weight="bold" fill="#000" textLength="30.63" lengthAdjust="spacingAndGlyphs" stroke="#000" stroke-width="0.45">70W</text>
<text x="876.94" y="973.30" font-size="20.5" font-weight="bold" fill="#000" textLength="31.71" lengthAdjust="spacingAndGlyphs" stroke="#000" stroke-width="0.45">60W</text>
<text x="953.27" y="973.30" font-size="20.5" font-weight="bold" fill="#000" textLength="31.71" lengthAdjust="spacingAndGlyphs" stroke="#000" stroke-width="0.45">50W</text>
<text x="1029.61" y="973.30" font-size="20.5" font-weight="bold" fill="#000" textLength="31.71" lengthAdjust="spacingAndGlyphs" stroke="#000" stroke-width="0.45">40W</text>
<text x="1105.95" y="973.30" font-size="20.5" font-weight="bold" fill="#000" textLength="31.71" lengthAdjust="spacingAndGlyphs" stroke="#000" stroke-width="0.45">30W</text>
<text x="1182.29" y="973.30" font-size="20.5" font-weight="bold" fill="#000" textLength="31.71" lengthAdjust="spacingAndGlyphs" stroke="#000" stroke-width="0.45">20W</text>
<text x="1258.22" y="973.30" font-size="20.5" font-weight="bold" fill="#000" textLength="31.76" lengthAdjust="spacingAndGlyphs" stroke="#000" stroke-width="0.45">10W</text>
<text x="1346.06" y="973.30" font-size="20.5" font-weight="bold" fill="#000" textLength="10.36" lengthAdjust="spacingAndGlyphs" stroke="#000" stroke-width="0.45">0</text>
<text x="1412.17" y="973.30" font-size="20.5" font-weight="bold" fill="#000" textLength="30.18" lengthAdjust="spacingAndGlyphs" stroke="#000" stroke-width="0.45">10E</text>
<text x="774.80" y="680.90" font-size="20.5" font-weight="bold" fill="#000" textLength="31.48" lengthAdjust="spacingAndGlyphs" stroke="#000" stroke-width="0.45">50S</text>
<text x="774.80" y="773.23" font-size="20.5" font-weight="bold" fill="#000" textLength="31.48" lengthAdjust="spacingAndGlyphs" stroke="#000" stroke-width="0.45">60S</text>
<text x="774.80" y="865.57" font-size="20.5" font-weight="bold" fill="#000" textLength="31.48" lengthAdjust="spacingAndGlyphs" stroke="#000" stroke-width="0.45">70S</text>
<text x="774.80" y="957.90" font-size="20.5" font-weight="bold" fill="#000" textLength="31.48" lengthAdjust="spacingAndGlyphs" stroke="#000" stroke-width="0.45">80S</text>
<text x="880.75" y="1018.60" font-size="17" font-weight="bold" fill="#000" textLength="19.56" lengthAdjust="spacingAndGlyphs">−1</text>
<text x="920.05" y="1018.60" font-size="17" font-weight="bold" fill="#000" textLength="35.58" lengthAdjust="spacingAndGlyphs">−0.8</text>
<text x="966.15" y="1018.60" font-size="17" font-weight="bold" fill="#000" textLength="35.58" lengthAdjust="spacingAndGlyphs">−0.6</text>
<text x="1012.35" y="1018.60" font-size="17" font-weight="bold" fill="#000" textLength="34.54" lengthAdjust="spacingAndGlyphs">−0.4</text>
<text x="1058.55" y="1018.60" font-size="17" font-weight="bold" fill="#000" textLength="35.58" lengthAdjust="spacingAndGlyphs">−0.2</text>
<text x="1116.65" y="1018.60" font-size="17" font-weight="bold" fill="#000" textLength="9.56" lengthAdjust="spacingAndGlyphs">0</text>
<text x="1154.90" y="1018.60" font-size="17" font-weight="bold" fill="#000" textLength="25.69" lengthAdjust="spacingAndGlyphs">0.2</text>
<text x="1201.30" y="1018.60" font-size="17" font-weight="bold" fill="#000" textLength="24.63" lengthAdjust="spacingAndGlyphs">0.4</text>
<text x="1247.20" y="1018.60" font-size="17" font-weight="bold" fill="#000" textLength="25.69" lengthAdjust="spacingAndGlyphs">0.6</text>
<text x="1293.50" y="1018.60" font-size="17" font-weight="bold" fill="#000" textLength="25.69" lengthAdjust="spacingAndGlyphs">0.8</text>
<text x="1349.11" y="1018.60" font-size="17" font-weight="bold" fill="#000" textLength="6.03" lengthAdjust="spacingAndGlyphs">1</text>
<text x="70.55" y="973.30" font-size="20.5" font-weight="bold" fill="#000" textLength="30.63" lengthAdjust="spacingAndGlyphs" stroke="#000" stroke-width="0.45">70W</text>
<text x="146.34" y="973.30" font-size="20.5" font-weight="bold" fill="#000" textLength="31.71" lengthAdjust="spacingAndGlyphs" stroke="#000" stroke-width="0.45">60W</text>
<text x="222.68" y="973.30" font-size="20.5" font-weight="bold" fill="#000" textLength="31.71" lengthAdjust="spacingAndGlyphs" stroke="#000" stroke-width="0.45">50W</text>
<text x="299.01" y="973.30" font-size="20.5" font-weight="bold" fill="#000" textLength="31.71" lengthAdjust="spacingAndGlyphs" stroke="#000" stroke-width="0.45">40W</text>
<text x="375.35" y="973.30" font-size="20.5" font-weight="bold" fill="#000" textLength="31.71" lengthAdjust="spacingAndGlyphs" stroke="#000" stroke-width="0.45">30W</text>
<text x="451.69" y="973.30" font-size="20.5" font-weight="bold" fill="#000" textLength="31.71" lengthAdjust="spacingAndGlyphs" stroke="#000" stroke-width="0.45">20W</text>
<text x="527.62" y="973.30" font-size="20.5" font-weight="bold" fill="#000" textLength="31.76" lengthAdjust="spacingAndGlyphs" stroke="#000" stroke-width="0.45">10W</text>
<text x="615.46" y="973.30" font-size="20.5" font-weight="bold" fill="#000" textLength="10.36" lengthAdjust="spacingAndGlyphs" stroke="#000" stroke-width="0.45">0</text>
<text x="681.57" y="973.30" font-size="20.5" font-weight="bold" fill="#000" textLength="30.18" lengthAdjust="spacingAndGlyphs" stroke="#000" stroke-width="0.45">10E</text>
<text x="44.20" y="680.80" font-size="20.5" font-weight="bold" fill="#000" textLength="31.48" lengthAdjust="spacingAndGlyphs" stroke="#000" stroke-width="0.45">50S</text>
<text x="44.20" y="773.13" font-size="20.5" font-weight="bold" fill="#000" textLength="31.48" lengthAdjust="spacingAndGlyphs" stroke="#000" stroke-width="0.45">60S</text>
<text x="44.20" y="865.47" font-size="20.5" font-weight="bold" fill="#000" textLength="31.48" lengthAdjust="spacingAndGlyphs" stroke="#000" stroke-width="0.45">70S</text>
<text x="44.20" y="957.80" font-size="20.5" font-weight="bold" fill="#000" textLength="31.48" lengthAdjust="spacingAndGlyphs" stroke="#000" stroke-width="0.45">80S</text>
<text x="150.15" y="1018.60" font-size="17" font-weight="bold" fill="#000" textLength="19.56" lengthAdjust="spacingAndGlyphs">−1</text>
<text x="189.45" y="1018.60" font-size="17" font-weight="bold" fill="#000" textLength="35.58" lengthAdjust="spacingAndGlyphs">−0.8</text>
<text x="235.55" y="1018.60" font-size="17" font-weight="bold" fill="#000" textLength="35.58" lengthAdjust="spacingAndGlyphs">−0.6</text>
<text x="281.75" y="1018.60" font-size="17" font-weight="bold" fill="#000" textLength="34.54" lengthAdjust="spacingAndGlyphs">−0.4</text>
<text x="327.95" y="1018.60" font-size="17" font-weight="bold" fill="#000" textLength="35.58" lengthAdjust="spacingAndGlyphs">−0.2</text>
<text x="386.05" y="1018.60" font-size="17" font-weight="bold" fill="#000" textLength="9.56" lengthAdjust="spacingAndGlyphs">0</text>
<text x="424.30" y="1018.60" font-size="17" font-weight="bold" fill="#000" textLength="25.69" lengthAdjust="spacingAndGlyphs">0.2</text>
<text x="470.70" y="1018.60" font-size="17" font-weight="bold" fill="#000" textLength="24.63" lengthAdjust="spacingAndGlyphs">0.4</text>
<text x="516.60" y="1018.60" font-size="17" font-weight="bold" fill="#000" textLength="25.69" lengthAdjust="spacingAndGlyphs">0.6</text>
<text x="562.90" y="1018.60" font-size="17" font-weight="bold" fill="#000" textLength="25.69" lengthAdjust="spacingAndGlyphs">0.8</text>
<text x="618.51" y="1018.60" font-size="17" font-weight="bold" fill="#000" textLength="6.03" lengthAdjust="spacingAndGlyphs">1</text>
<text x="79.44" y="656.10" font-size="38" fill="#000" textLength="615.27" lengthAdjust="spacingAndGlyphs">(c) Rho, U, V 0-50m (SIR 2008-2017)</text>
<text x="826.94" y="656.10" font-size="38" fill="#000" textLength="578.69" lengthAdjust="spacingAndGlyphs">(d) Salinity 0-50m (SIR 2008-2017)</text>
<text x="266.74" y="1050.30" font-size="34.6" fill="#000" textLength="248.66" lengthAdjust="spacingAndGlyphs">Potential density</text>
<text x="1070.63" y="1051.70" font-size="34.6" fill="#000" textLength="108.38" lengthAdjust="spacingAndGlyphs">Salinity</text>
<text x="647.20" y="1025.30" font-size="28.8" fill="#000" textLength="30.36" lengthAdjust="spacingAndGlyphs">10</text>
<text x="677.10" y="1010.30" font-size="21.6" fill="#000" textLength="15.30" lengthAdjust="spacingAndGlyphs">-1</text>
<text x="701.90" y="1025.30" font-size="28.8" fill="#000" textLength="27.52" lengthAdjust="spacingAndGlyphs">kg</text>
<text x="738.88" y="1025.30" font-size="28.8" fill="#000" textLength="22.13" lengthAdjust="spacingAndGlyphs">m</text>
<text x="758.50" y="1010.30" font-size="21.6" fill="#000" textLength="17.71" lengthAdjust="spacingAndGlyphs">-3</text>
<text x="1384.51" y="1025.20" font-size="28.8" fill="#000" textLength="30.25" lengthAdjust="spacingAndGlyphs">10</text>
<text x="1415.00" y="1010.70" font-size="21.6" fill="#000" textLength="14.78" lengthAdjust="spacingAndGlyphs">-1</text>
<text x="1438.76" y="1025.20" font-size="28.8" fill="#000" textLength="57.43" lengthAdjust="spacingAndGlyphs">PSU</text>
<text x="525.61" y="905.50" font-size="24.9" fill="#000" textLength="161.34" lengthAdjust="spacingAndGlyphs">Ocean velocity</text>
<text x="538.70" y="939.60" font-size="16" fill="#222" textLength="21.60" lengthAdjust="spacingAndGlyphs">0.1</text>
<text x="582.94" y="942.70" font-size="24.5" fill="#000" textLength="26.27" lengthAdjust="spacingAndGlyphs">10</text>
<text x="609.20" y="929.40" font-size="17" fill="#000" textLength="13.61" lengthAdjust="spacingAndGlyphs">-1</text>
<text x="630.39" y="942.70" font-size="24.5" fill="#000" textLength="20.52" lengthAdjust="spacingAndGlyphs">m</text>
<text x="658.60" y="942.70" font-size="24.5" fill="#000" textLength="11.64" lengthAdjust="spacingAndGlyphs">s</text>
<text x="672.40" y="930.60" font-size="17" fill="#000" textLength="12.48" lengthAdjust="spacingAndGlyphs">-1</text>
</svg>
</body></html>
